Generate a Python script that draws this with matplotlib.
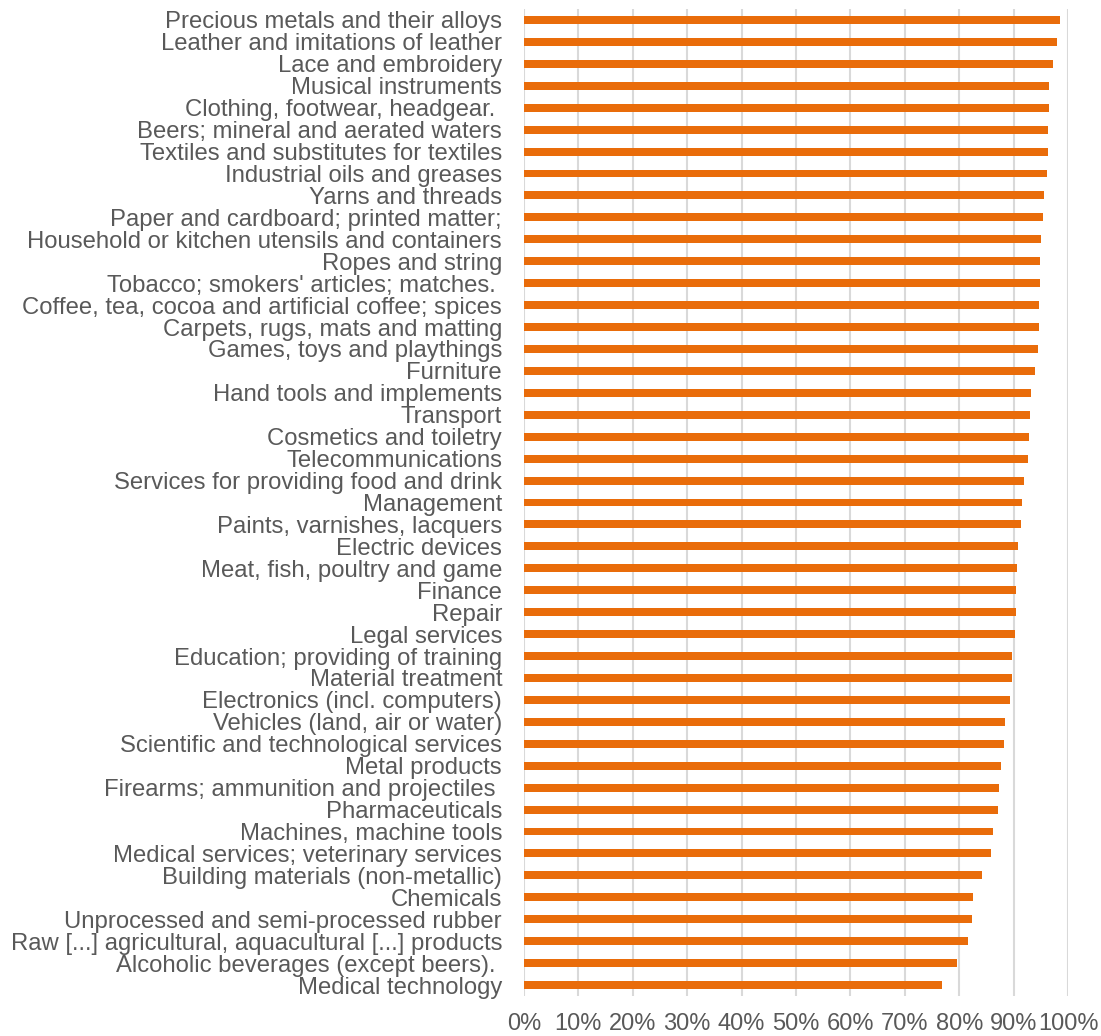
import matplotlib
matplotlib.use("Agg")
import matplotlib.pyplot as plt
from matplotlib.ticker import FuncFormatter, MultipleLocator

categories = [
    "Precious metals and their alloys",
    "Leather and imitations of leather",
    "Lace and embroidery",
    "Musical instruments",
    "Clothing, footwear, headgear. ",
    "Beers; mineral and aerated waters",
    "Textiles and substitutes for textiles",
    "Industrial oils and greases",
    "Yarns and threads",
    "Paper and cardboard; printed matter;",
    "Household or kitchen utensils and containers",
    "Ropes and string",
    "Tobacco; smokers' articles; matches. ",
    "Coffee, tea, cocoa and artificial coffee; spices",
    "Carpets, rugs, mats and matting",
    "Games, toys and playthings",
    "Furniture",
    "Hand tools and implements",
    "Transport",
    "Cosmetics and toiletry",
    "Telecommunications",
    "Services for providing food and drink",
    "Management",
    "Paints, varnishes, lacquers",
    "Electric devices",
    "Meat, fish, poultry and game",
    "Finance",
    "Repair",
    "Legal services",
    "Education; providing of training",
    "Material treatment",
    "Electronics (incl. computers)",
    "Vehicles (land, air or water)",
    "Scientific and technological services",
    "Metal products",
    "Firearms; ammunition and projectiles ",
    "Pharmaceuticals",
    "Machines, machine tools",
    "Medical services; veterinary services",
    "Building materials (non-metallic)",
    "Chemicals",
    "Unprocessed and semi-processed rubber",
    "Raw [...] agricultural, aquacultural [...] products",
    "Alcoholic beverages (except beers). ",
    "Medical technology",
]

values = [
    98.6, 97.9, 97.3, 96.5, 96.55, 96.3, 96.3, 96.1, 95.6, 95.4,
    95.0, 94.9, 94.8, 94.6, 94.6, 94.5, 94.0, 93.2, 93.1, 92.9,
    92.7, 92.0, 91.6, 91.3, 90.9, 90.6, 90.5, 90.4, 90.2, 89.7,
    89.7, 89.4, 88.4, 88.3, 87.7, 87.4, 87.1, 86.3, 85.8, 84.2,
    82.5, 82.3, 81.7, 79.6, 76.8,
]

bar_color = "#E96C0A"
text_color = "#595959"
grid_color = "#D9D9D9"

plt.rcParams["font.family"] = ["Liberation Sans", "DejaVu Sans"]

fig = plt.figure(figsize=(11.01, 10.36), dpi=100)
ax = fig.add_axes([524 / 1101, 1 - 996 / 1036, (1068 - 524) / 1101, (996 - 9) / 1036])

y = list(range(len(categories)))
ax.barh(y, values, height=0.36, color=bar_color, zorder=3)

ax.set_xlim(0, 100)
ax.set_ylim(len(categories) - 0.5, -0.5)
ax.set_yticks(y)
ax.set_yticklabels(categories, fontsize=17.2, color=text_color)
ax.xaxis.set_major_locator(MultipleLocator(10))
ax.xaxis.set_major_formatter(FuncFormatter(lambda v, p: f"{int(round(v))}%"))
ax.tick_params(axis="x", labelsize=17.0, labelcolor=text_color, length=0, pad=12)
ax.tick_params(axis="y", length=0, pad=15.8)

ax.grid(axis="x", color=grid_color, linewidth=1.5, zorder=0)
for s in ax.spines.values():
    s.set_visible(False)

fig.savefig("out.png", dpi=100)
